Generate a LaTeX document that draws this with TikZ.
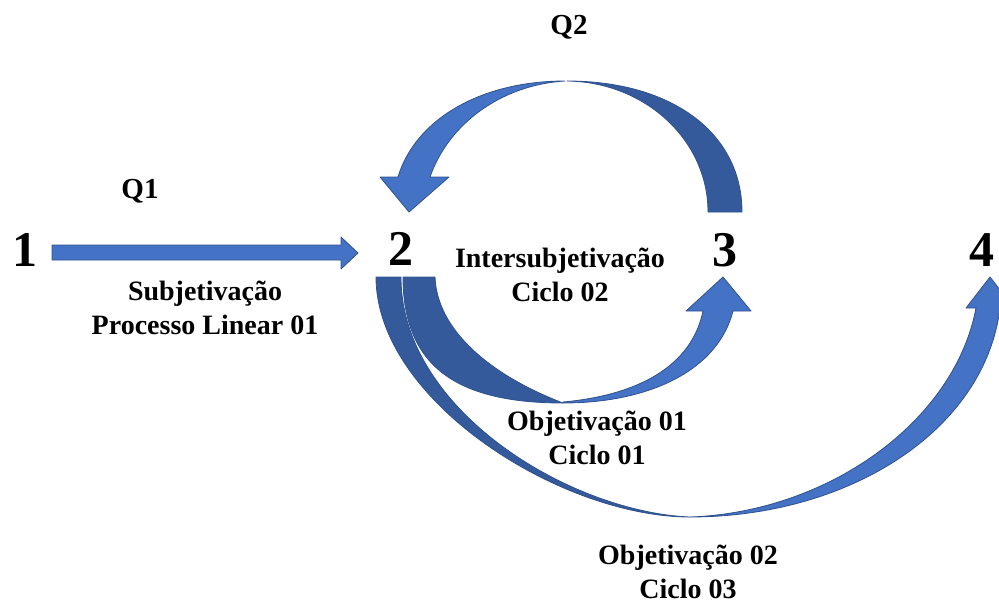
\documentclass[tikz,border=0pt]{standalone}
\usepackage{fontspec}
\setmainfont{Liberation Serif}
\definecolor{arrowblue}{HTML}{4472C4}
\definecolor{arrowdark}{HTML}{345A9B}
\definecolor{arrowedge}{HTML}{2F528F}
\begin{document}
\begin{tikzpicture}[x=1pt,y=-1pt,line join=round,
	num/.style={font=\fontsize{50}{60}\selectfont\bfseries,inner sep=0pt},
	lbl/.style={font=\fontsize{28}{34}\selectfont\bfseries,align=center,inner sep=0pt},
	qlbl/.style={font=\fontsize{29}{34}\selectfont\bfseries,inner sep=0pt},
	front/.style={fill=arrowblue,draw=arrowedge,line width=0.8pt},
	back/.style={fill=arrowdark,draw=arrowedge,line width=0.8pt}]
	\useasboundingbox (0,0) rectangle (999,606);
	\node[num] (n1) at (25,250) {1};
	\node[num] (n2) at (401,249) {2};
	\node[num] (n3) at (725,250) {3};
	\node[num] (n4) at (982,250) {4};
	\node[qlbl] (q1) at (140,191) {Q1};
	\node[qlbl] (q2) at (569,27) {Q2};
	\node[lbl] (subj) at (205,308) {Subjetivação\\Processo Linear 01};
	\node[lbl] (inter) at (560,275) {Intersubjetivação\\Ciclo 02};
	\node[lbl] (obj1) at (597,438) {Objetivação 01\\Ciclo 01};
	\node[lbl] (obj2) at (688,572) {Objetivação 02\\Ciclo 03};
	\draw[front] (52,245) -- (341,245) -- (341,237) -- (358,253) -- (341,269) -- (341,260) -- (52,260) -- cycle;
	\draw[back] (742,212) .. controls (742,133) and (672,81) .. (567,81)
		.. controls (645,82) and (708,140) .. (708,212) -- cycle;
	\draw[front] (565,81) .. controls (480,81) and (415,120) .. (398,177) -- (380,177) -- (409,212)
		-- (449,177) -- (430,177) .. controls (448,125) and (500,85) .. (565,81) -- cycle;
	\draw[back] (403,277) .. controls (403,365) and (455,403) .. (563,403)
		.. controls (490,375) and (437,330) .. (435,277) -- cycle;
	\draw[front] (563,402) .. controls (640,395) and (692,365) .. (703,311) -- (686,311) -- (723,277)
		-- (751,311) -- (733,311) .. controls (718,370) and (650,403) .. (563,403) -- cycle;
	\draw[back] (376,277) .. controls (376,400) and (560,517) .. (690,517)
		.. controls (570,512) and (401,410) .. (401,277) -- cycle;
	\draw[front] (690,517) .. controls (830,512) and (955,420) .. (976,308) -- (966,308) -- (990,277)
		-- (1014,308) -- (1000,308) .. controls (985,430) and (850,517) .. (690,517) -- cycle;
\end{tikzpicture}
\end{document}
